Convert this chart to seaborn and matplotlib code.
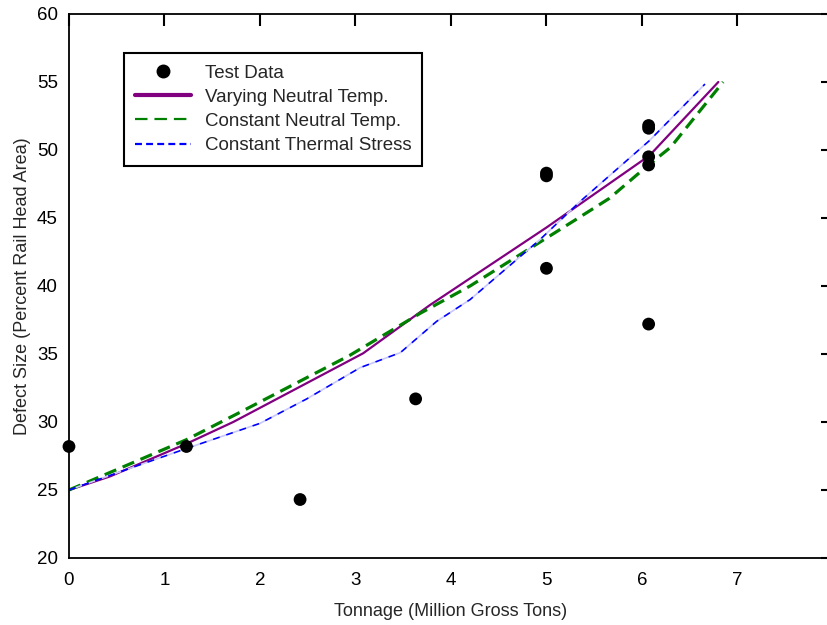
import matplotlib
matplotlib.use("Agg")
import matplotlib.pyplot as plt
from matplotlib.lines import Line2D
import seaborn as sns

# Measured crack growth (test data)
test_x = [0.0, 1.23, 2.42, 3.63, 5.0, 5.0, 5.0, 6.07, 6.07, 6.07, 6.07, 6.07]
test_y = [28.2, 28.2, 24.3, 31.7, 48.1, 48.3, 41.3, 51.6, 51.8, 49.5, 48.9, 37.2]

# Model predictions
varying_x = [0.0, 0.43, 1.23, 1.72, 3.08, 3.78, 5.0, 6.08, 6.8]
varying_y = [25.0, 26.0, 28.4, 30.0, 35.05, 38.6, 44.3, 49.6, 55.0]

const_nt_x = [0.0, 0.5, 1.23, 1.76, 2.94, 3.68, 4.2, 5.3, 5.66, 6.06, 6.3, 6.85]
const_nt_y = [25.0, 26.5, 28.7, 30.6, 34.9, 38.0, 40.0, 44.85, 46.45, 48.85, 50.2, 55.0]

const_ts_x = [0.0, 0.6, 1.23, 2.0, 2.49, 3.05, 3.47, 3.85, 4.2, 4.93, 5.35, 6.08, 6.66]
const_ts_y = [25.0, 26.5, 28.05, 29.9, 31.7, 34.0, 35.1, 37.4, 39.0, 43.4, 46.2, 50.7, 54.85]

x_ticks = [0, 1, 2, 3, 4, 5, 6, 7, 8]
y_ticks = [20, 25, 30, 35, 40, 45, 50, 55, 60]

sns.set_style("white")
plt.rcParams["font.family"] = ["Liberation Sans", "DejaVu Sans"]
plt.rcParams["lines.scale_dashes"] = False

PURPLE = "#800080"
GREEN = "#008000"
BLUE = "#0000ff"

fig = plt.figure(figsize=(8.27, 6.25), dpi=100)
ax = fig.add_axes([0.0834, 0.1072, 0.9238, 0.8704])

sns.lineplot(x=varying_x, y=varying_y, ax=ax, color=PURPLE, lw=1.6,
             sort=False, estimator=None)
sns.lineplot(x=const_nt_x, y=const_nt_y, ax=ax, color=GREEN, lw=2.3,
             linestyle=(0, (9, 5)), sort=False, estimator=None)
sns.lineplot(x=const_ts_x, y=const_ts_y, ax=ax, color=BLUE, lw=1.2,
             linestyle=(0, (5, 5)), gapcolor="#c8c8ff", sort=False, estimator=None)
sns.scatterplot(x=test_x, y=test_y, ax=ax, color="black", s=85,
                edgecolor="none", zorder=5, clip_on=False)

ax.set_xlim(0, 8)
ax.set_ylim(20, 60)
ax.set_xticks(x_ticks)
ax.set_yticks(y_ticks)
ax.set_xticklabels([str(t) for t in x_ticks])
ax.set_yticklabels([str(t) for t in y_ticks])
ax.tick_params(axis="both", direction="in", length=8.5, width=1.5,
               labelsize=13.5, top=True, right=True, colors="black")
ax.tick_params(axis="x", pad=10)
ax.tick_params(axis="y", pad=8)
for side in ["left", "bottom", "top", "right"]:
    ax.spines[side].set_visible(True)
    ax.spines[side].set_linewidth(1.3)
    ax.spines[side].set_color("black")

ax.set_xlabel("Tonnage (Million Gross Tons)", fontsize=13, labelpad=10)
ax.set_ylabel("Defect Size (Percent Rail Head Area)", fontsize=13, labelpad=4)

handles = [
    Line2D([], [], ls="none", marker="o", color="black", markersize=9),
    Line2D([], [], color=PURPLE, lw=3),
    Line2D([], [], color=GREEN, lw=1.6, ls=(0, (9, 5))),
    Line2D([], [], color=BLUE, lw=1.6, ls=(0, (5, 3))),
]
labels = ["Test Data", "Varying Neutral Temp.", "Constant Neutral Temp.",
          "Constant Thermal Stress"]
leg = ax.legend(handles, labels, loc="upper left", bbox_to_anchor=(0.072, 0.928),
                fontsize=13.5, frameon=True, fancybox=False, shadow=False,
                framealpha=1, edgecolor="black", handlelength=3.0,
                handletextpad=0.7, labelspacing=0.38, borderpad=0.6,
                borderaxespad=0)
leg.get_frame().set_linewidth(1.5)

fig.savefig("out.png", dpi=100)
